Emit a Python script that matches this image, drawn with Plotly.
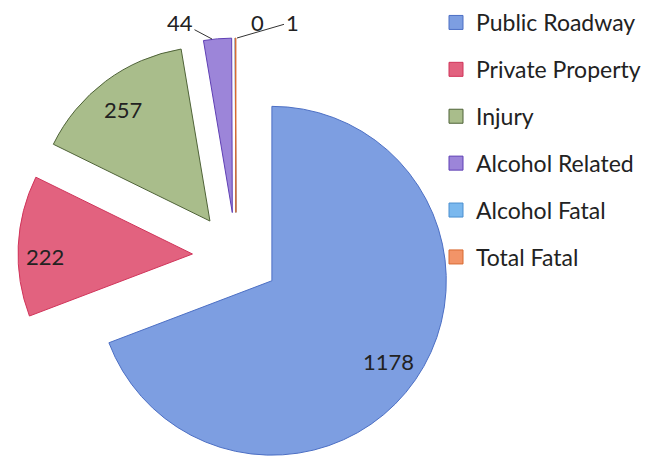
import plotly.graph_objects as go

categories = ["Public Roadway", "Private Property", "Injury",
              "Alcohol Related", "Alcohol Fatal", "Total Fatal"]
counts = [1178, 222, 257, 44, 0, 1]

fill_colors = ["#7d9ee1", "#e2627f", "#a9bd8b", "#9c85d9", "#7ab8ee", "#f29468"]
edge_colors = ["#4c6fc4", "#d0345a", "#4f6338", "#5f3fb5", "#4a8fd0", "#d86a30"]

# label anchors in pixel space (x, y from top-left); leader tip or None
label_pos = [(380, 353), (37, 248), (115, 101), (172, 14), (249, 14), (284, 14)]
leader_tip = [None, None, None, (204, 31), None, (229, 30)]

W, H = 650, 466

fig = go.Figure()

fig.add_trace(go.Pie(
    labels=categories,
    values=counts,
    sort=False,
    direction="clockwise",
    rotation=0,
    pull=0.25,
    marker=dict(colors=fill_colors, line=dict(color=edge_colors, width=1)),
    textinfo="none",
    showlegend=False,
    hoverinfo="label+value",
    domain=dict(x=[8 / W, 448 / W], y=[0, 436 / H]),
))

# legend built from marker-only traces so the row spacing can be set
for name, fc, ec in zip(categories, fill_colors, edge_colors):
    fig.add_trace(go.Scatter(
        x=[None], y=[None], mode="markers", name=name, legendgroup=name,
        marker=dict(symbol="square", size=14, color=fc, line=dict(color=ec, width=1)),
    ))

# value labels
for v, (lx, ly), tip in zip(counts, label_pos, leader_tip):
    if tip is None:
        fig.add_annotation(x=lx, y=ly, xref="x", yref="y", text=str(v),
                           showarrow=False)
    else:
        fig.add_annotation(x=tip[0], y=tip[1], xref="x", yref="y",
                           ax=lx, ay=ly, axref="x", ayref="y", text=str(v),
                           showarrow=True, arrowhead=0, arrowwidth=1,
                           arrowcolor="#333333", standoff=0)

fig.update_annotations(font=dict(family="Lato", size=22, color="#222222"))

fig.update_xaxes(visible=False, range=[0, W], fixedrange=True)
fig.update_yaxes(visible=False, range=[H, 0], fixedrange=True)

fig.update_layout(
    width=W, height=H,
    margin=dict(l=0, r=0, t=0, b=0, autoexpand=False),
    paper_bgcolor="white", plot_bgcolor="white",
    font=dict(family="Lato", color="#222222"),
    legend=dict(
        x=428 / W, y=0.7232 - 3 / H, xanchor="left", yanchor="middle",
        font=dict(family="Lato", size=23, color="#222222"),
        tracegroupgap=14, bgcolor="rgba(0,0,0,0)",
    ),
)

fig.write_html("out.html")
